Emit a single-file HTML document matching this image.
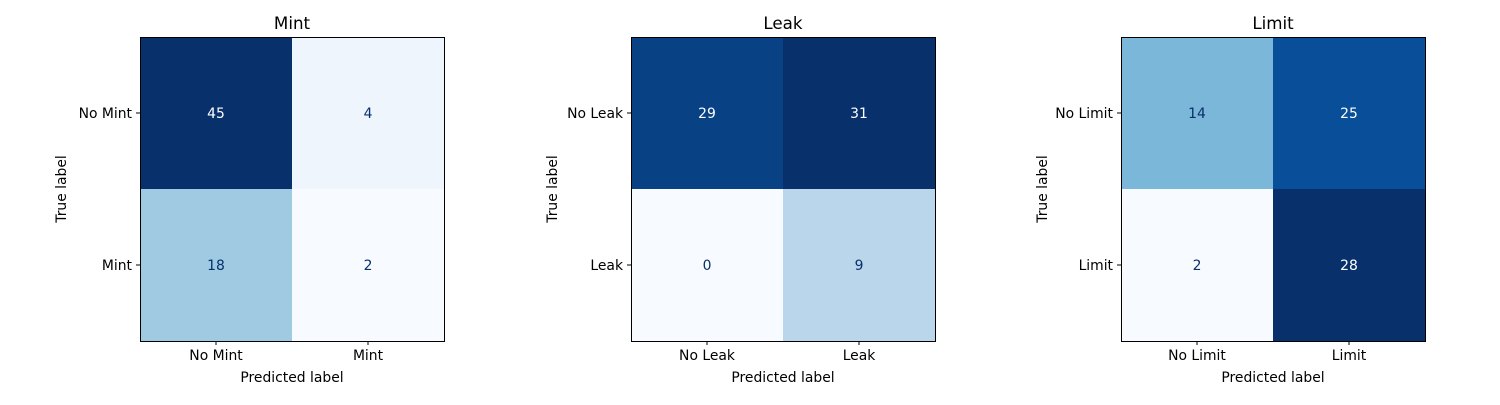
<!DOCTYPE html>
<html><head><meta charset="utf-8">
<style>
body{margin:0;background:#fff;}
svg text{font-family:"DejaVu Sans","Liberation Sans",sans-serif;}
</style></head>
<body>
<svg id="chart" width="1500" height="400" xmlns="http://www.w3.org/2000/svg"></svg>
<script>
const titles = ["Mint","Leak","Limit"];
const classNames = [["No Mint","Mint"],["No Leak","Leak"],["No Limit","Limit"]];
const matMint = [[45,4],[18,2]];
const matLeak = [[29,31],[0,9]];
const matLimit = [[14,25],[2,28]];
const matrices = [matMint, matLeak, matLimit];

const blues = ["#f7fbff","#deebf7","#c6dbef","#9ecae1","#6baed6","#4292c6","#2171b5","#08519c","#08306b"];
function hex(c){return [1,3,5].map(i=>parseInt(c.substr(i,2),16));}
function cmap(t){
  t=Math.max(0,Math.min(1,t));
  const p=t*(blues.length-1), i=Math.min(Math.floor(p),blues.length-2), f=p-i;
  const a=hex(blues[i]), b=hex(blues[i+1]);
  return "rgb("+a.map((v,k)=>Math.round(v+(b[k]-v)*f)).join(",")+")";
}
const NS="http://www.w3.org/2000/svg";
const svgRoot=document.getElementById("chart");
function mk(tag,attrs,parent){const e=document.createElementNS(NS,tag);for(const k in attrs)e.setAttribute(k,attrs[k]);(parent||svgRoot).appendChild(e);return e;}
const lefts=[140,631,1121], plotTop=37, size=304, fs=13.9;
matrices.forEach((m,pi)=>{
  const g=mk("g",{});
  
  
  const x0=lefts[pi], cs=size/2;
  const flat=m.flat(), mn=Math.min(...flat), mx=Math.max(...flat), thr=(mn+mx)/2;
  m.forEach((row,r)=>row.forEach((v,c)=>{
    const rect=mk("rect",{x:x0+c*cs,y:plotTop+r*cs,width:cs,height:cs,fill:cmap((v-mn)/(mx-mn))},g);
    
    
    const t=mk("text",{x:x0+c*cs+cs/2,y:plotTop+r*cs+cs/2+5,"text-anchor":"middle","font-size":fs,fill:v>thr?"#fff":"#08306b"},g);
    t.textContent=v;
    
    
  }));
  const fr=mk("rect",{x:x0+0.5,y:plotTop+0.5,width:size,height:size,fill:"none",stroke:"#000","stroke-width":1},g);
  
  
  const tt=mk("text",{x:x0+size/2,y:29,"text-anchor":"middle","font-size":16.7},g);
  tt.textContent=titles[pi];
  
  
  classNames[pi].forEach((n,i)=>{
    const cx=x0+i*cs+cs/2, cy=plotTop+i*cs+cs/2;
    mk("line",{x1:cx,y1:plotTop+size,x2:cx,y2:plotTop+size+4,stroke:"#000"},g);
    const xl=mk("text",{x:cx,y:plotTop+size+19,"text-anchor":"middle","font-size":fs},g);
    xl.textContent=n;
    
    
    mk("line",{x1:x0-4,y1:cy,x2:x0,y2:cy,stroke:"#000"},g);
    const yl=mk("text",{x:x0-8,y:cy+5,"text-anchor":"end","font-size":fs},g);
    yl.textContent=n;
    
    
  });
  const xa=mk("text",{x:x0+size/2,y:382,"text-anchor":"middle","font-size":fs},g);
  xa.textContent="Predicted label";
  
  
  const ya=mk("text",{x:0,y:0,"text-anchor":"middle","font-size":fs,transform:"translate("+(x0-74)+","+(plotTop+size/2)+") rotate(-90)"},g);
  ya.textContent="True label";
  
  
});
</script>
</body></html>
